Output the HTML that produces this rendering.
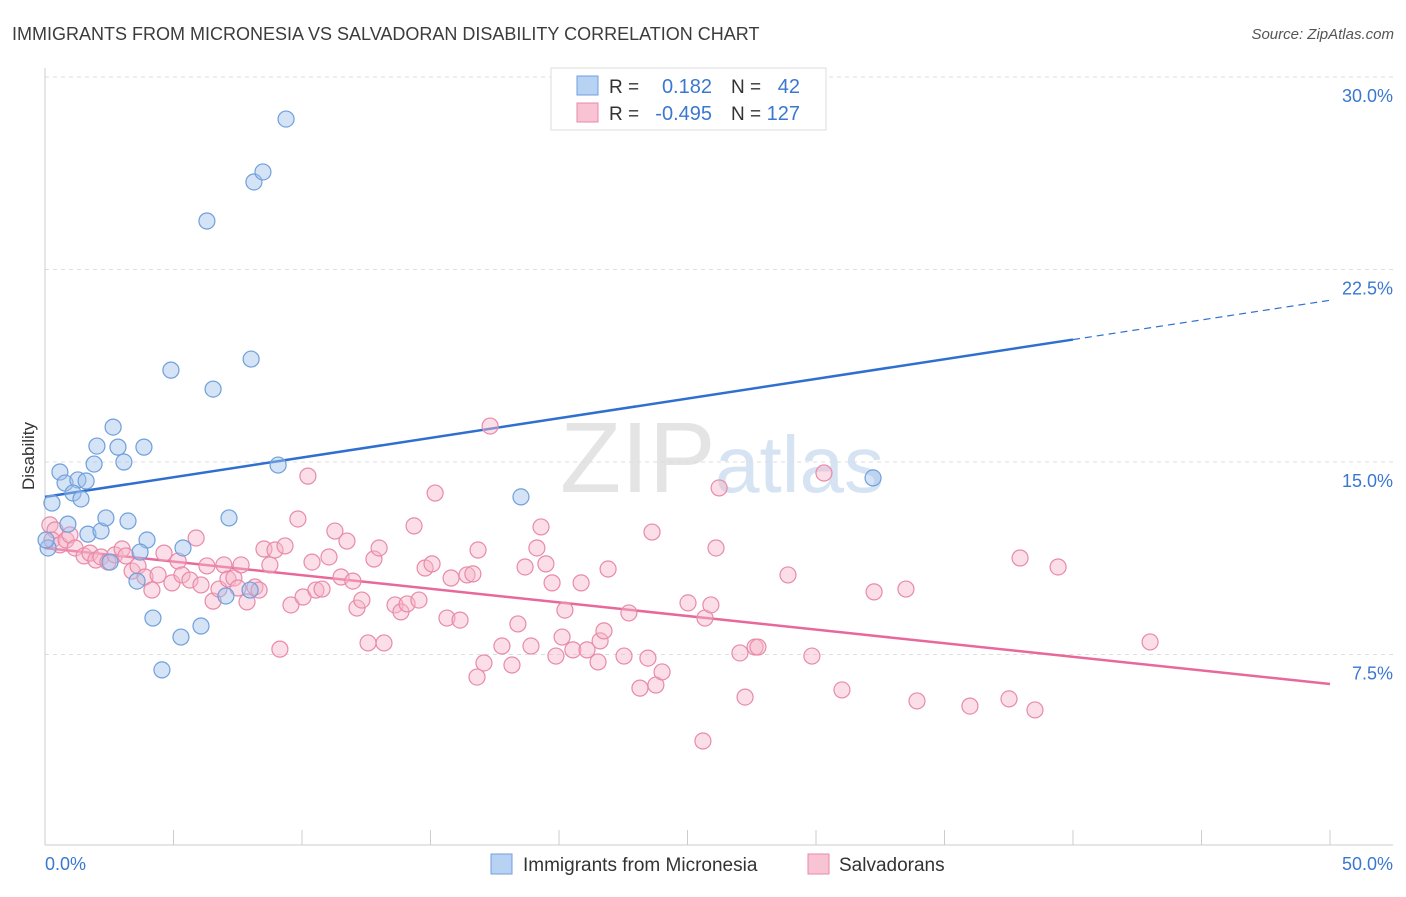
<!DOCTYPE html>
<html><head><meta charset="utf-8">
<style>
body{margin:0;background:#fff;font-family:"Liberation Sans",sans-serif;}
svg text{font-family:"Liberation Sans",sans-serif;}
</style></head>
<body>
<svg id="chart" width="1406" height="892" xmlns="http://www.w3.org/2000/svg">
<text x="12" y="40" font-size="18" fill="#3c3c3c">IMMIGRANTS FROM MICRONESIA VS SALVADORAN DISABILITY CORRELATION CHART</text>
<text x="1394" y="39" font-size="15" fill="#555" font-style="italic" text-anchor="end">Source: ZipAtlas.com</text>
<text x="560" y="492" font-size="100" fill="#e4e4e4" font-family="Liberation Serif">ZIP</text>
<text x="715" y="492" font-size="80" fill="#d5e3f3">atlas</text>
<g id="grid"></g>
<g id="axes"></g>
<g id="trend"></g>
<g id="points"></g>
<text x="34" y="456" font-size="17" fill="#333" transform="rotate(-90 34 456)" text-anchor="middle">Disability</text>
<g>
<rect x="551" y="68" width="275" height="62" fill="#fff" stroke="#ddd"/>
<rect x="577" y="76" width="21" height="19" fill="#b8d2f3" stroke="#6f9fdc"/>
<rect x="577" y="103" width="21" height="19" fill="#f8c3d3" stroke="#e88aa8"/>
<text x="609" y="93" font-size="19" fill="#333">R = </text>
<text x="712" y="93" font-size="20" fill="#3a78d0" text-anchor="end">0.182</text>
<text x="731" y="93" font-size="19" fill="#333">N = </text>
<text x="800" y="93" font-size="20" fill="#3a78d0" text-anchor="end">42</text>
<text x="609" y="120" font-size="19" fill="#333">R = </text>
<text x="712" y="120" font-size="20" fill="#3a78d0" text-anchor="end">-0.495</text>
<text x="731" y="120" font-size="19" fill="#333">N = </text>
<text x="800" y="120" font-size="20" fill="#3a78d0" text-anchor="end">127</text>
</g>
<g>
<rect x="491" y="854" width="21" height="20" fill="#b8d2f3" stroke="#6f9fdc"/>
<text x="523" y="871" font-size="19" fill="#333">Immigrants from Micronesia</text>
<rect x="808" y="854" width="21" height="20" fill="#f8c3d3" stroke="#e88aa8"/>
<text x="839" y="871" font-size="19" fill="#333">Salvadorans</text>
</g>
</svg>
<script>
const blueX=[0.27,0.58,0.78,1.28,1.60,1.09,1.40,1.91,2.02,2.65,2.84,3.07,3.85,0.89,1.67,2.18,2.37,3.23,3.97,3.70,2.53,3.58,4.20,5.29,4.55,4.90,6.30,6.54,8.02,8.13,8.48,9.38,6.07,7.16,7.04,7.98,5.37,9.07,18.52,32.22,0.12,0.04];
const blueY=[13.40,14.61,14.18,14.30,14.26,13.79,13.56,14.92,15.62,16.36,15.58,15.00,15.58,12.58,12.19,12.31,12.82,12.70,11.96,11.49,11.10,10.36,8.92,8.18,6.90,18.58,24.39,17.84,19.01,25.91,26.30,28.36,8.61,12.82,9.78,10.01,11.65,14.88,13.64,14.38,11.65,11.96];
const pinkX=[0.19,0.39,0.27,0.58,0.82,0.97,1.17,1.52,1.75,1.98,2.18,2.45,2.72,3.00,3.15,3.39,3.62,3.89,4.16,4.40,4.63,4.94,5.18,5.33,5.64,5.88,6.07,6.30,6.54,6.77,6.96,7.12,7.35,7.51,7.63,7.86,8.17,8.33,8.52,8.75,8.95,9.14,9.34,9.57,9.84,10.04,10.23,10.39,10.54,10.78,11.05,11.28,11.52,11.75,11.98,12.14,12.33,12.57,12.80,13.00,13.19,13.62,13.85,14.09,14.36,14.55,14.79,15.06,15.18,15.64,15.80,16.15,16.42,16.65,16.85,17.08,16.81,17.32,17.78,18.17,18.40,18.68,18.91,19.14,19.30,19.49,19.73,19.88,20.12,20.23,20.54,20.86,21.09,21.52,21.60,21.75,21.91,22.53,22.72,23.15,23.46,23.62,23.77,24.01,25.02,25.60,25.68,25.91,26.11,26.23,27.04,27.24,27.63,27.74,28.91,29.84,30.31,31.01,32.26,33.50,33.93,35.99,37.51,37.94,38.52,39.42,43.00];
const pinkY=[12.55,12.35,11.96,11.77,11.96,12.16,11.65,11.34,11.45,11.18,11.30,11.10,11.38,11.61,11.34,10.75,10.95,10.52,10.01,10.60,11.45,10.29,11.14,10.60,10.40,12.04,10.21,10.95,9.58,10.05,10.99,10.44,10.48,10.09,10.99,9.55,10.13,10.01,11.61,10.99,11.57,7.71,11.73,9.43,12.78,9.74,14.45,11.10,10.01,10.05,11.30,12.31,10.52,11.92,10.36,9.31,9.62,7.95,11.22,11.65,7.95,9.43,9.16,9.47,12.51,9.62,10.87,11.03,13.79,8.92,10.48,8.84,10.60,10.64,11.57,7.17,6.62,16.40,7.83,7.09,8.69,10.91,7.83,11.65,12.47,11.03,10.29,7.44,8.18,9.23,7.68,10.29,7.68,7.21,8.03,8.42,10.83,7.44,9.12,6.19,7.36,12.27,6.31,6.82,9.51,4.13,8.92,9.43,11.65,13.99,7.56,5.84,7.79,7.79,10.60,7.44,14.57,6.12,9.94,10.05,5.69,5.49,5.77,11.26,5.34,10.91,7.99];
const blueTrendX=[0,40,50];
const blueTrendY=[13.64,19.77,21.30];
const pinkTrendX=[0,50];
const pinkTrendY=[11.65,6.35];
const yTicks=[7.5,15,22.5,30];
const yTickLabels=["7.5%","15.0%","22.5%","30.0%"];
const xTicks=[0,5,10,15,20,25,30,35,40,45,50];

const X0=45,X1=1330,Y0=847,PY=25.667;
const sx=v=>X0+(v/50)*(X1-X0);
const sy=v=>Y0-v*PY;
const NS="http://www.w3.org/2000/svg";
function mk(tag,attrs,parent){const e=document.createElementNS(NS,tag);for(const k in attrs)e.setAttribute(k,attrs[k]);parent.appendChild(e);return e;}
const grid=document.getElementById('grid'),axes=document.getElementById('axes'),trend=document.getElementById('trend'),pts=document.getElementById('points');
yTicks.forEach((t,i)=>{
  const l=mk('line',{x1:X0,x2:1393,y1:sy(t),y2:sy(t),stroke:'#ddd','stroke-dasharray':'4,4'},grid);
  
  
  const tx=mk('text',{x:1393,y:sy(t)+25,'font-size':18,fill:'#3a78d0','text-anchor':'end'},grid);
  tx.textContent=yTickLabels[i];
  
  
});
let a=mk('line',{x1:X0,x2:X0,y1:68,y2:845,stroke:'#ccc'},axes);


a=mk('line',{x1:X0,x2:1393,y1:845,y2:845,stroke:'#ccc'},axes);


xTicks.forEach(t=>{
  const l=mk('line',{x1:sx(t),x2:sx(t),y1:830,y2:845,stroke:'#ccc'},axes);
  
  
});
let xl=mk('text',{x:45,y:870,'font-size':18,fill:'#3a78d0'},axes);xl.textContent='0.0%';


xl=mk('text',{x:1393,y:870,'font-size':18,fill:'#3a78d0','text-anchor':'end'},axes);xl.textContent='50.0%';



function dots(xs,ys,fill,stroke,name){
  xs.forEach((x,i)=>{
    const c=mk('circle',{cx:sx(x),cy:sy(ys[i]),r:8,fill:fill,'fill-opacity':0.45,stroke:stroke,'stroke-width':1.2},pts);
    
    
  });
}
dots(pinkX,pinkY,'#f6b6c9','#e88aa8','salvadoran-point');
dots(blueX,blueY,'#9fc1ec','#6f9fdc','micronesia-point');

let t=mk('line',{x1:sx(blueTrendX[0]),y1:sy(blueTrendY[0]),x2:sx(blueTrendX[1]),y2:sy(blueTrendY[1]),stroke:'#2f6fd0','stroke-width':2.5},trend);


t=mk('line',{x1:sx(blueTrendX[1]),y1:sy(blueTrendY[1]),x2:sx(blueTrendX[2]),y2:sy(blueTrendY[2]),stroke:'#2f6fd0','stroke-width':1.2,'stroke-dasharray':'7,5'},trend);


t=mk('line',{x1:sx(pinkTrendX[0]),y1:sy(pinkTrendY[0]),x2:sx(pinkTrendX[1]),y2:sy(pinkTrendY[1]),stroke:'#e8689a','stroke-width':2.5},trend);


</script>
</body></html>
